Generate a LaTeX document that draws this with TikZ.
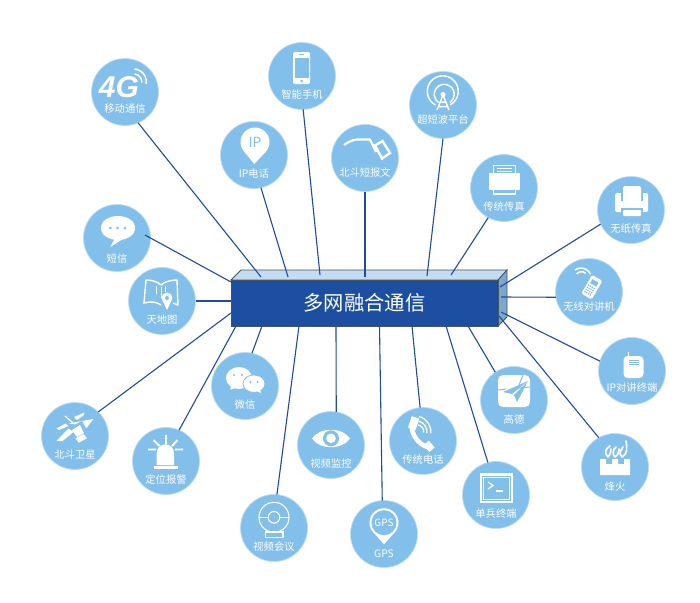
\documentclass[tikz,border=0pt]{standalone}
\usepackage{fontspec}
\setmainfont{Noto Sans CJK SC}
\newfontfamily\fgfont{Liberation Sans}[BoldItalicFont=* Bold Italic]
\usetikzlibrary{calc}
\definecolor{hubc}{HTML}{82BFEA}
\definecolor{hubr}{HTML}{BBDDF4}
\definecolor{linkc}{HTML}{1F4BA3}
\definecolor{boxf}{HTML}{1C4FA1}
\definecolor{boxt}{HTML}{C5DBF1}
\definecolor{boxs}{HTML}{7CA8CC}
\definecolor{boxe}{HTML}{45535F}
\newcommand\ico[2]{\begin{scope}[shift={(#1)}]#2\end{scope}}
\tikzset{
  hub/.style={circle,fill=hubc,draw=hubr,line width=.7pt,minimum size=67pt,inner sep=0pt,outer sep=0pt},
  lab/.style={text=white,font=\fontsize{10.3}{10.3}\selectfont,inner sep=0pt},
  link/.style={draw=linkc,line width=1.1pt},
  wf/.style={fill=white,draw=none},
  bf/.style={fill=hubc,draw=none},
  wl/.style={draw=white,line width=1.4pt},
  bl/.style={draw=hubc,line width=1pt},
}
\begin{document}
\begin{tikzpicture}[x=1pt,y=-1pt]
\useasboundingbox (0,0) rectangle (700,602);
\fill[white] (0,0) rectangle (700,602);
% box
\coordinate (bA) at (231,280);\coordinate (bB) at (241,270);\coordinate (bC) at (507,270);
\coordinate (bD) at (498,280);\coordinate (bE) at (498,326);\coordinate (bF) at (507,317);
\fill[boxt,draw=boxe,line width=.8pt] (bA)--(bB)--(bC)--(bD)--cycle;
\fill[boxs,draw=boxe,line width=.8pt] (bD)--(bC)--(bF)--(bE)--cycle;
\node[fill=boxf,draw=boxe,line width=.8pt,minimum width=267pt,minimum height=46pt,inner sep=0pt,outer sep=0pt,text=white,font=\fontsize{20.3}{20.3}\selectfont] (core) at (364.5,303) {多网融合通信};
% hubs
\node[hub] (mob) at (125,92) {};
\node[hub] (pho) at (302,76) {};
\node[hub] (ipt) at (254,155) {};
\node[hub] (bsm) at (365,158) {};
\node[hub] (sws) at (443,105) {};
\node[hub] (fax) at (504,188) {};
\node[hub] (pfx) at (631,210) {};
\node[hub] (sms) at (117,238) {};
\node[hub] (map) at (162,301) {};
\node[hub] (wal) at (589,292) {};
\node[hub] (ipw) at (632,371) {};
\node[hub] (fen) at (615,467) {};
\node[hub] (gao) at (514,400) {};
\node[hub] (sol) at (496,495) {};
\node[hub] (tel) at (423,441) {};
\node[hub] (gps) at (384,534) {};
\node[hub] (mon) at (331,445) {};
\node[hub] (cnf) at (274,528) {};
\node[hub] (wec) at (245,386) {};
\node[hub] (alm) at (166,461) {};
\node[hub] (sat) at (75,436) {};
% labels
\node[lab] (l1) at (125,109) {移动通信};
\node[lab] (l2) at (302,95) {智能手机};
\node[lab] (l3) at (254,174) {IP电话};
\node[lab] (l4) at (365,172.5) {北斗短报文};
\node[lab] (l5) at (443,119.5) {超短波平台};
\node[lab] (l6) at (504,207) {传统传真};
\node[lab] (l7) at (631,229) {无纸传真};
\node[lab] (l8) at (117,258.5) {短信};
\node[lab] (l9) at (162,320) {天地图};
\node[lab] (l10) at (589,307) {无线对讲机};
\node[lab] (l11) at (632,388) {IP对讲终端};
\node[lab] (l12) at (615,487) {烽火};
\node[lab] (l13) at (514,420) {高德};
\node[lab] (l14) at (496,514) {单兵终端};
\node[lab] (l15) at (423,460) {传统电话};
\node[lab] (l16) at (384,554) {GPS};
\node[lab] (l17) at (331,464) {视频监控};
\node[lab] (l18) at (274,547) {视频会议};
\node[lab] (l19) at (245,405) {微信};
\node[lab] (l20) at (166,480) {定位报警};
\node[lab] (l21) at (75,455) {北斗卫星};
% connectors
\coordinate (e1) at (261,277);\coordinate (e2) at (320,275);\coordinate (e3) at (288,277);
\coordinate (e4) at (365,277);\coordinate (e5) at (427,276);\coordinate (e6) at (451,275);
\coordinate (e7) at (500,287);\coordinate (e8) at (501,297);\coordinate (e9) at (501,312);
\coordinate (e10) at (499,316);\coordinate (e11) at (468,326);\coordinate (e12) at (446,326);
\coordinate (e13) at (412,326);\coordinate (e14) at (379.5,326);\coordinate (e15) at (336,326);
\coordinate (e16) at (299,326);\coordinate (e17) at (262,326);\coordinate (e18) at (236,326);
\coordinate (e19) at (231,313);\coordinate (e20) at (231,301);\coordinate (e21) at (231,282);
\coordinate (smsin) at (145,235);
\draw[link] (mob.-67) -- (e1);
\draw[link] (pho.-88) -- (e2);
\draw[link] (ipt.-78) -- (e3);
\draw[link] (bsm.-90) -- (e4);
\draw[link] (sws.-90) -- (e5);
\draw[link] (fax.-118) -- (e6);
\draw[link] (pfx.-155) -- (e7);
\draw[link] (wal.-171) -- (e8);
\draw[link] (ipw.163) -- (e9);
\draw[link] (fen.119) -- (e10);
\draw[link] (gao.124) -- (e11);
\draw[link] (sol.104) -- (e12);
\draw[link] (tel.95) -- (e13);
\draw[link] (gps.93) -- (e14);
\draw[link] (mon.81) -- (e15);
\draw[link] (cnf.85) -- (e16);
\draw[link] (wec.78) -- (e17);
\draw[link] (alm.67) -- (e18);
\draw[link] (sat.46) -- (e19);
\draw[link] (map.0) -- (e20);
\draw[link] (smsin) -- (e21);
% icons
\ico{mob}{
  \node[text=white,font=\fgfont\bfseries\itshape\fontsize{30}{30}\selectfont,inner sep=0pt] (t4g) at (-6,-5) {4G};
  \draw[wl,line width=1.6pt] (9.5,-18) arc[start angle=-85,end angle=5,radius=8];
  \draw[wl,line width=1.6pt] (9.5,-23) arc[start angle=-85,end angle=8,radius=13];
}
\ico{pho}{
  \fill[wf,rounded corners=2pt] (-9,-24) rectangle (8,8);
  \fill[bf] (-7.5,-18) rectangle (6.5,2.3);
  \fill[bf] (-.5,5) circle (1.5);
  \fill[bf] (-3,-21.7) rectangle (2,-20.7);
}
\ico{ipt}{
  \fill[wf] (1,-13) circle (14.5);
  \fill[wf] (-9.8,-3.3) -- (.3,9) -- (11.8,-3.3) -- cycle;
  \node[text=hubc,font=\fontsize{14}{14}\selectfont,inner sep=0pt] (tip) at (1,-13) {IP};
}
\ico{bsm}{
  \draw[wl,line width=2.2pt] (-21,-13) .. controls (-14,-18) and (-9,-18.5) .. (-8,-18.5) -- (5,-18.5) -- (11,-6);
  \draw[wl,line width=2.4pt] (10,-12.5) -- (17.5,-17) -- (25,-5) -- (17,0.5) -- cycle;
}
\ico{sws}{
  \draw[wl,line width=1.5pt] (-7.5,0) arc[start angle=118,end angle=422,radius=15.5];
  \draw[wl,line width=1.5pt] (-4.5,-2.5) arc[start angle=125,end angle=415,radius=10];
  \fill[wf] (0,-10.5) circle (2.5);
  \draw[wl,line width=1.5pt] (0,-10) -- (-6,5) (0,-10) -- (6,5) (-3.5,-3) -- (3.5,-3) (-5,1.5) -- (5,1.5);
}
\ico{fax}{
  \draw[wl,line width=1.2pt] (-10.7,-15) -- (-10.7,-22.7) -- (11.7,-22.7) -- (11.7,-15);
  \draw[wl,line width=.8pt] (-7,-19.5) -- (8,-19.5) (-7,-17) -- (8,-17);
  \fill[wf] (-14.7,-15) rectangle (16,1.7);
  \draw[wl,line width=1.2pt] (-10.7,1.7) -- (-10.7,6) -- (11.7,6) -- (11.7,1.7);
}
\ico{pfx}{
  \fill[wf,rounded corners=1.5pt] (-16,-17) rectangle (17,2);
  \fill[bf] (-10,-18) rectangle (12,-9);
  \fill[wf,rounded corners=2pt] (-8,-24) rectangle (10,-7);
  \fill[bf] (-10,-2) rectangle (12,3);
  \fill[wf,rounded corners=1pt] (-8,0) rectangle (10,6);
}
\ico{sms}{
  \fill[wf] (1,-10) ellipse [x radius=17.3,y radius=12];
  \fill[wf] (-2,0) -- (-6.7,9) -- (6,1) -- cycle;
  \fill[bf] (-6.7,-10) circle (1.5);\fill[bf] (.7,-10) circle (1.5);\fill[bf] (8,-10) circle (1.5);
}
\ico{map}{
  \draw[wl] (-1,-16) .. controls (-5,-20) and (-12,-21) .. (-16,-21) -- (-18,2) .. controls (-11,0) and (-5,1) .. (-1,4);
  \draw[wl] (-1,-16) .. controls (3,-20) and (11,-21) .. (15,-21) -- (16,4) -- (11,2);
  \draw[wl,line width=.9pt] (-6,-15) -- (-6,-7) (3,-15) -- (3,-9) (-1,-14) -- (-1,-3);
  \fill[wf] (5,-3) circle (5.5);
  \fill[wf] (.5,-.5) -- (5,9) -- (9.5,-.5) -- cycle;
  \fill[bf] (5,-3) circle (2);
}
\ico{wal}{
  \fill[wf,rotate around={-30:(3,-5)},rounded corners=1.5pt] (-3,-15.5) rectangle (9,6);
  \fill[bf,rotate around={-30:(3,-5)}] (-.5,-12) rectangle (6.5,-7.5);
  \foreach \u in {-1,1,3.2,5.4}{\foreach \v in {-5.5,-3,-.5,2}{\fill[bf,rotate around={-30:(3,-5)}] (\u-.4,\v) rectangle (\u+.9,\v+1.3);}}
  \draw[wl,line width=1.5pt] (-12.5,-18) arc[start angle=-140,end angle=-50,radius=6.5];
  \draw[wl,line width=1.5pt] (-14,-22) arc[start angle=-125,end angle=-25,radius=10.5];
}
\ico{ipw}{
  \draw[wl,line width=1pt] (-3.5,-19.5) -- (-3.5,-13);
  \fill[wf,rounded corners=4pt] (-8.5,-15) rectangle (11.5,7);
  \draw[bl,line width=.7pt] (-3,-10.5) -- (7,-10.5) (-3,-8.7) -- (7,-8.7) (-3,-6.9) -- (7,-6.9);
}
\ico{fen}{
  \fill[wf] (-15,-8) -- (-9,-8) -- (-9,-3) -- (-3,-3) -- (-3,-8) -- (3,-8) -- (3,-3) -- (9,-3) -- (9,-8) -- (15,-8) -- (15,8) -- (-15,8) -- cycle;
  \draw[wl,line width=1.7pt,line cap=round] (-7,-10) .. controls (-11,-14) and (-10,-18) .. (-5,-21);
  \draw[wl,line width=1.7pt,line cap=round] (-7,-10) .. controls (-5,-12) and (-4,-15) .. (-4,-18);
  \draw[wl,line width=1.7pt,line cap=round] (0,-10) .. controls (-3,-13) and (-2,-18) .. (1,-20);
  \draw[wl,line width=1.7pt,line cap=round] (0,-10) .. controls (3,-12) and (4,-15) .. (4,-18);
  \draw[wl,line width=1.7pt,line cap=round] (7,-10) .. controls (3,-14) and (6,-16) .. (8,-20);
  \draw[wl,line width=1.7pt,line cap=round] (7,-10) .. controls (13,-13) and (12,-20) .. (11,-26);
}
\ico{gao}{
  \fill[wf,rounded corners=5pt] (-16,-25) rectangle (16,7);
  \draw[bl] (-16,-10) -- (-8,-11) (4,-12) -- (16,-13) (9,-25) -- (5,-15);
  \fill[bf] (14,-19) -- (-11,-8) -- (-2,-6) -- cycle;
  \fill[bf] (14,-19) -- (0,-5) -- (3,2) -- cycle;
}
\ico{sol}{
  \draw[wl,line width=2.2pt] (-15,-20.5) rectangle (16,7);
  \draw[wl,line width=.7pt] (-12.5,-18) rectangle (13.5,4.5);
  \draw[wl,line width=1.2pt] (-8,-13) -- (-3,-9.5) -- (-8,-6);
  \draw[wl,line width=1.2pt] (0,-4) -- (7,-4);
}
\ico{tel}{
  \draw[white,line width=4.6pt,line cap=round] (-11,-15) .. controls (-12,-8) and (-5,4) .. (5,6);
  \fill[wf,rotate around={-18:(-10,-16)}] (-14,-24) rectangle (-6,-12);
  \fill[wf,rotate around={-50:(6,6)}] (1,2) rectangle (10,9);
  \draw[wl,line width=1.3pt] (-5,-16) arc[start angle=-80,end angle=5,radius=7];
  \draw[wl,line width=1.3pt] (-4.5,-20) arc[start angle=-75,end angle=5,radius=11.5];
  \draw[wl,line width=1.3pt] (-4,-24.5) arc[start angle=-75,end angle=5,radius=16];
}
\ico{gps}{
  \fill[wf] (-10.5,-1.5) -- (0,10.3) -- (10.5,-1.5) -- cycle;
  \fill[wf] (0,-11.3) circle (14.5);
  \fill[bf] (0,-11.3) circle (12.5);
  \node[text=white,font=\fontsize{10}{10}\selectfont,inner sep=0pt] (tgps) at (0,-11.3) {GPS};
}
\ico{mon}{
  \fill[wf] (-19,-6.5) .. controls (-12,-18) and (12,-18) .. (19,-6.5) .. controls (12,5) and (-12,5) .. (-19,-6.5) -- cycle;
  \fill[bf] (0,-6.7) circle (8);
  \fill[wf] (0,-6.7) circle (4.8);
}
\ico{cnf}{
  \draw[wl,line width=1.1pt] (0,-10.7) circle (15);
  \draw[wl,line width=1.1pt] (0,-10.7) circle (5.8);
  \draw[wl,line width=1.1pt] (-15,-10.7) -- (-5.8,-10.7) (5.8,-10.7) -- (15,-10.7);
  \draw[wl,line width=1.1pt] (-8.7,4) rectangle (9,9.3);
}
\ico{wec}{
  \fill[wf] (-6,-8) ellipse [x radius=13,y radius=11];
  \fill[wf] (-13,-1) -- (-15,3.5) -- (-7,1.5) -- cycle;
  \fill[bf] (-11,-11) circle (1.2);\fill[bf] (-3,-11) circle (1.2);
  \fill[wf,draw=hubc,line width=.8pt] (9,-2.3) ellipse [x radius=11,y radius=8.8];
  \fill[wf] (12,5) -- (16,7) -- (15,3) -- cycle;
  \fill[bf] (5.5,-4) circle (1.1);\fill[bf] (12.5,-4) circle (1.1);
}
\ico{alm}{
  \fill[wf] (-9.3,4) -- (-9.3,-8) arc[start angle=180,end angle=360,radius=8.7] -- (8,4) -- cycle;
  \fill[wf] (-12,4.5) rectangle (11.5,8);
  \draw[wl,line width=1.9pt] (-18,-11.5) -- (-10,-11.5) (-12.5,-21) -- (-6.5,-15) (0,-26) -- (0,-17) (6,-15) -- (11.5,-21) (9,-11.5) -- (17,-11.5);
}
\ico{sat}{
  \fill[wf] (-6.5,-12.5) -- (18.5,-17) -- (7,-2.5) -- (-1,-12) -- cycle;
  \fill[wf] (-1,-19) -- (9,-23.3) -- (9,-21) -- (2,-16) -- cycle;
  \draw[wl,line width=1.3pt] (-10,-20) -- (-2,-13);
  \fill[wf] (-18.5,-7.5) -- (-9.5,-12.5) -- (-6.5,-10) -- (-16,-6) -- cycle;
  \fill[wf] (-18.5,5) -- (-6.5,-7.5) -- (-1.5,-4) -- (-12.5,5) -- cycle;
  \fill[bf] (-5,-9) -- (7,-15) -- (12,-6) -- (2,0) -- cycle;
  \fill[wf] (-3,-6) -- (5,-11) -- (9,-3) -- (2,1) -- cycle;
  \fill[wf] (.5,2.3) -- (8.5,-2) -- (12,2.3) -- (3.7,6.7) -- cycle;
}
\end{tikzpicture}
\end{document}
